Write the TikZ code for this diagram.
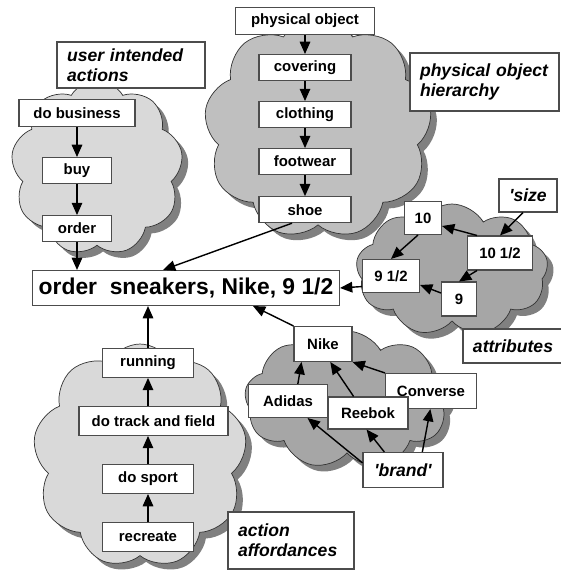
\documentclass[tikz,border=0pt]{standalone}
\usepackage{fontspec}
\setmainfont{Liberation Sans}
\usetikzlibrary{positioning,arrows.meta,shapes.symbols,shadows}
\tikzset{
  >={Triangle[length=7pt,width=6pt]},
  box/.style={
    rectangle,
    draw=black!70, line width=0.6pt,
    fill=white,
    inner sep=0pt,
    font=\fontsize{8.5}{10}\selectfont\bfseries,
    text centered},
  tag/.style={
    rectangle,
    draw=black!70, line width=0.6pt,
    fill=white,
    inner xsep=0.2cm, inner ysep=0pt,
    align=left,
    font=\fontsize{10}{11.5}\selectfont\bfseries\itshape},
  blob/.style={
    cloud, cloud puffs=9, cloud puff arc=120, cloud ignores aspect,
    draw=black!80, thin,
    drop shadow={shadow xshift=3.5pt, shadow yshift=-3.5pt, fill=black!50, opacity=1}},
  line/.style={draw, thick, ->},
}
\begin{document}
\begin{tikzpicture}[x=0.02cm, y=-0.02cm]
  \useasboundingbox (0,0) rectangle (560,573);

  % clouds
  \node[blob, fill=black!15, minimum width=3.44cm, minimum height=3.5cm] (intendcloud) at (97,168) {};
  \node[blob, fill=black!25, minimum width=4.56cm, minimum height=4.44cm] (objcloud) at (318,128) {};
  \node[blob, fill=black!35, minimum width=3.84cm, minimum height=2.64cm] (attrcloud) at (452,270) {};
  \node[blob, fill=black!35, minimum width=4.1cm, minimum height=2.76cm] (brandcloud) at (347,400) {};
  \node[blob, fill=black!15, minimum width=4.28cm, minimum height=4.48cm] (affcloud) at (140,456) {};

  \node[box, minimum width=6.14cm, minimum height=0.7cm, font=\fontsize{13}{15}\selectfont\bfseries] (goal) at (186,288) {order\ \ sneakers, Nike, 9 1/2};

  \node[tag, text width=2.56cm, minimum height=0.92cm] (intendtag) at (131,65) {user intended\\actions};
  \node[box, minimum width=2.32cm, minimum height=0.54cm] (business) at (77,113) {do business};
  \node[box, minimum width=1.38cm, minimum height=0.52cm, below=0.6cm of business] (buy) {buy};
  \node[box, minimum width=1.38cm, minimum height=0.52cm, below=0.62cm of buy] (order) {order};

  \node[tag, text width=2.58cm, minimum height=1.16cm] (objtag) at (484.5,82) {physical object\\hierarchy};
  \node[box, minimum width=2.78cm, minimum height=0.54cm] (physobj) at (305,21) {physical object};
  \node[box, minimum width=1.84cm, minimum height=0.52cm, below=0.38cm of physobj] (covering) {covering};
  \node[box, minimum width=1.84cm, minimum height=0.52cm, below=0.4cm of covering] (clothing) {clothing};
  \node[box, minimum width=1.84cm, minimum height=0.52cm, below=0.4cm of clothing] (footwear) {footwear};
  \node[box, minimum width=1.84cm, minimum height=0.52cm, below=0.42cm of footwear] (shoe) {shoe};

  \node[tag, minimum width=1.16cm, minimum height=0.66cm] (sizetag) at (528,195.5) {\textquotesingle size};
  \node[tag, minimum width=1.84cm, minimum height=0.68cm] (attrtag) at (513,346) {attributes};
  \node[box, minimum width=0.74cm, minimum height=0.66cm] (ten) at (423,218) {10};
  \node[box, minimum width=1.3cm, minimum height=0.68cm] (tenhalf) at (500,253) {10 1/2};
  \node[box, minimum width=1.14cm, minimum height=0.66cm] (ninehalf) at (391,276) {9 1/2};
  \node[box, minimum width=0.7cm, minimum height=0.68cm] (nine) at (459,299) {9};

  \node[tag, minimum width=1.6cm, minimum height=0.7cm] (brandtag) at (403,470) {\textquotesingle brand\textquotesingle};
  \node[box, minimum width=1.16cm, minimum height=0.7cm] (nike) at (323,344) {Nike};
  \node[box, minimum width=1.58cm, minimum height=0.66cm] (adidas) at (288,401) {Adidas};
  \node[box, minimum width=1.82cm, minimum height=0.7cm] (converse) at (431,391) {Converse};
  \node[box, minimum width=1.6cm, minimum height=0.64cm] (reebok) at (368,413) {Reebok};

  \node[tag, text width=2.12cm, minimum height=1.14cm] (afftag) at (291,540.5) {action\\affordances};
  \node[box, minimum width=1.82cm, minimum height=0.58cm] (recreate) at (148,537) {recreate};
  \node[box, minimum width=1.82cm, minimum height=0.58cm, above=0.56cm of recreate] (dosport) {do sport};
  \node[box, minimum width=2.98cm, minimum height=0.58cm, above=0.56cm of dosport, xshift=0.11cm] (track) {do track and field};
  \node[box, minimum width=1.82cm, minimum height=0.58cm, above=0.56cm of track, xshift=-0.11cm] (running) {running};

  \path[line] (business) -- (buy);
  \path[line] (buy) -- (order);
  \path[line] (order) -- (order |- goal.north);

  \path[line] (physobj) -- (covering);
  \path[line] (covering) -- (clothing);
  \path[line] (clothing) -- (footwear);
  \path[line] (footwear) -- (shoe);
  \path[line] ([xshift=-0.26cm]shoe.south) -- ([xshift=-0.46cm]goal.north);

  \path[line] ([xshift=-0.1cm]sizetag.south) -- (tenhalf.north);
  \path[line] ([xshift=0.2cm]tenhalf.north west) -- ([yshift=-0.16cm]ten.east);
  \path[line] ([xshift=-0.1cm]ten.south) -- (ninehalf.north);
  \path[line] ([xshift=-0.46cm]tenhalf.south) -- (nine.north);
  \path[line] ([yshift=0.12cm]nine.west) -- ([yshift=-0.18cm]ninehalf.east);
  \path[line] (ninehalf.200) -- (goal.east);

  \path[line] (nike.north west) -- ([xshift=1.34cm]goal.south);
  \path[line] (adidas.60) -- (nike.220);
  \path[line] (reebok.131) -- (nike.292);
  \path[line] (converse.north west) -- (nike.south east);
  \path[line] (brandtag.170) -- (adidas.319);
  \path[line] (brandtag.136) -- (reebok.265);
  \path[line] (brandtag.43) -- (converse.268);

  \path[line] (recreate) -- (dosport);
  \path[line] (dosport.north) -- (dosport.north |- track.south);
  \path[line] (track.north -| running) -- (running);
  \path[line] (running) -- (running |- goal.south);
\end{tikzpicture}
\end{document}
